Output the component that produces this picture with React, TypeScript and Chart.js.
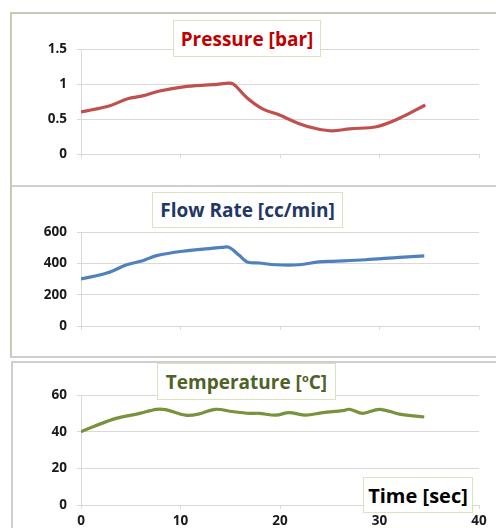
import React, { useEffect, useRef } from "react";
import { Chart, registerables } from "chart.js";

Chart.register(...registerables);

const pressureTime = [0, 2.9, 4.7, 6.2, 7.9, 10.3, 13.3, 14.6, 15.3, 16.7, 18.3, 19.7, 22, 23.7, 25.3, 27, 29.7, 32, 34.6];
const pressureValues = [0.6, 0.69, 0.79, 0.83, 0.9, 0.96, 0.99, 1.01, 1.0, 0.8, 0.64, 0.57, 0.43, 0.36, 0.33, 0.36, 0.39, 0.51, 0.7];

const flowTime = [0, 2.6, 4.6, 6.2, 7.6, 10.2, 12.9, 14.2, 14.9, 15.9, 16.7, 17.9, 19.6, 21.9, 23.9, 25.3, 28.6, 32, 34.5];
const flowValues = [300, 338, 391, 417, 449, 477, 494, 502, 502, 451, 409, 402, 391, 391, 409, 413, 423, 438, 447];

const tempTime = [0, 3.2, 5.9, 7.6, 8.5, 10.5, 11.8, 13.5, 15.2, 16.9, 17.9, 19.6, 20.9, 22.6, 24.3, 26.3, 27, 28.3, 30, 32, 34.5];
const tempValues = [40, 46.7, 50, 52.2, 52, 49, 49.6, 52.2, 51, 50, 50, 49, 50.4, 49, 50.4, 51.5, 52.2, 50, 52.2, 49.6, 48];

const xTicks = [0, 10, 20, 30, 40];
const pressureTicks = [0, 0.5, 1, 1.5];
const flowTicks = [0, 200, 400, 600];
const tempTicks = [0, 20, 40, 60];

const FONT = "'Open Sans', Lato, sans-serif";

type PanelProps = {
  times: number[];
  values: number[];
  ticks: number[];
  color: string;
  width: number;
  height: number;
  yWidth: number;
  topPad: number;
  xHeight: number;
  showX: boolean;
};

function Panel(p: PanelProps) {
  const ref = useRef<HTMLCanvasElement | null>(null);
  useEffect(() => {
    if (!ref.current) return;
    const chart = new Chart(ref.current, {
      type: "line",
      data: {
        datasets: [
          {
            data: p.times.map((t, i) => ({ x: t, y: p.values[i] })),
            borderColor: p.color,
            borderWidth: 3.2,
            pointRadius: 0,
            tension: 0.35,
            fill: false,
          },
        ],
      },
      options: {
        animation: false,
        responsive: false,
        maintainAspectRatio: false,
        layout: { padding: { left: 0, right: 17, top: p.topPad, bottom: 0 } },
        plugins: { legend: { display: false }, tooltip: { enabled: false }, title: { display: false } },
        scales: {
          x: {
            type: "linear",
            min: xTicks[0],
            max: xTicks[xTicks.length - 1],
            afterBuildTicks: (axis: any) => {
              axis.ticks = xTicks.map((v) => ({ value: v }));
            },
            afterFit: (axis: any) => {
              axis.height = p.xHeight;
            },
            grid: { drawOnChartArea: false, drawTicks: true, tickLength: 4, color: "#d9d9d9", lineWidth: 1 },
            border: { color: "#d9d9d9", width: 1 },
            ticks: {
              display: p.showX,
              padding: 4,
              color: "#1a1a1a",
              font: { family: FONT, size: 13.5, weight: "bold" },
              maxRotation: 0,
              callback: (v: any) => String(v),
            },
          },
          y: {
            type: "linear",
            min: p.ticks[0],
            max: p.ticks[p.ticks.length - 1],
            afterBuildTicks: (axis: any) => {
              axis.ticks = p.ticks.map((v) => ({ value: v }));
            },
            afterFit: (axis: any) => {
              axis.width = p.yWidth;
            },
            grid: { color: "#d9d9d9", lineWidth: 1, tickLength: 4 },
            border: { color: "#d9d9d9", width: 1 },
            ticks: {
              padding: 10,
              color: "#1a1a1a",
              font: { family: FONT, size: 13.5, weight: "bold" },
              callback: (v: any) => String(v),
            },
          },
        },
      },
    });
    return () => chart.destroy();
  }, []);
  return <canvas ref={ref} width={p.width} height={p.height} style={{ display: "block", width: p.width, height: p.height }} />;
}

const boxStyle = (left: number, top: number, w: number, h: number, color: string, size: number): React.CSSProperties => ({
  position: "absolute",
  left,
  top,
  width: w,
  height: h,
  boxSizing: "border-box",
  border: "1px solid #d7e4bd",
  background: "#fff",
  color,
  fontFamily: FONT,
  fontWeight: 700,
  fontSize: size,
  display: "flex",
  alignItems: "center",
  justifyContent: "center",
  whiteSpace: "nowrap",
});

export default function App() {
  return (
    <div style={{ position: "absolute", left: 0, top: 0, width: 496, height: 528, overflow: "hidden", background: "#fff" }}>
      {/* Panel 1 */}
      <div style={{ position: "absolute", left: 10, top: 12, width: 486, height: 174, borderTop: "2px solid #c3ccb2", borderLeft: "2px solid #c3ccb2", boxSizing: "border-box" }} />
      <div style={{ position: "absolute", left: 10, top: 12 }}>
        <Panel times={pressureTime} values={pressureValues} ticks={pressureTicks} color="#c0504d" width={486} height={174} yWidth={71} topPad={37} xHeight={32} showX={false} />
      </div>
      {/* Panel 2 */}
      <div style={{ position: "absolute", left: 10, top: 185, width: 486, height: 173, borderTop: "2px solid #cfcfcf", borderLeft: "2px solid #c3ccb2", borderBottom: "2px solid #cfcfcf", boxSizing: "border-box" }} />
      <div style={{ position: "absolute", left: 10, top: 187 }}>
        <Panel times={flowTime} values={flowValues} ticks={flowTicks} color="#4f81bd" width={486} height={171} yWidth={71} topPad={45} xHeight={32} showX={false} />
      </div>
      {/* Panel 3 */}
      <div style={{ position: "absolute", left: 11, top: 361, width: 485, height: 167, borderTop: "2px solid #cfcfcf", borderLeft: "2px solid #cfcfcf", boxSizing: "border-box" }} />
      <div style={{ position: "absolute", left: 12, top: 362 }}>
        <Panel times={tempTime} values={tempValues} ticks={tempTicks} color="#77933c" width={484} height={166} yWidth={69} topPad={33} xHeight={23} showX={true} />
      </div>
      <div style={boxStyle(173, 20, 148, 37, "#c00000", 19)}>Pressure [bar]</div>
      <div style={boxStyle(152, 192, 191, 36, "#1f3864", 19)}>Flow Rate [cc/min]</div>
      <div style={boxStyle(157, 363, 179, 37, "#4f6228", 19)}>
        <span>
          Temperature [<sup style={{ fontSize: 11, verticalAlign: 7 }}>o</sup>C]
        </span>
      </div>
      <div style={boxStyle(363, 477, 110, 36, "#000", 20)}>Time [sec]</div>
    </div>
  );
}
